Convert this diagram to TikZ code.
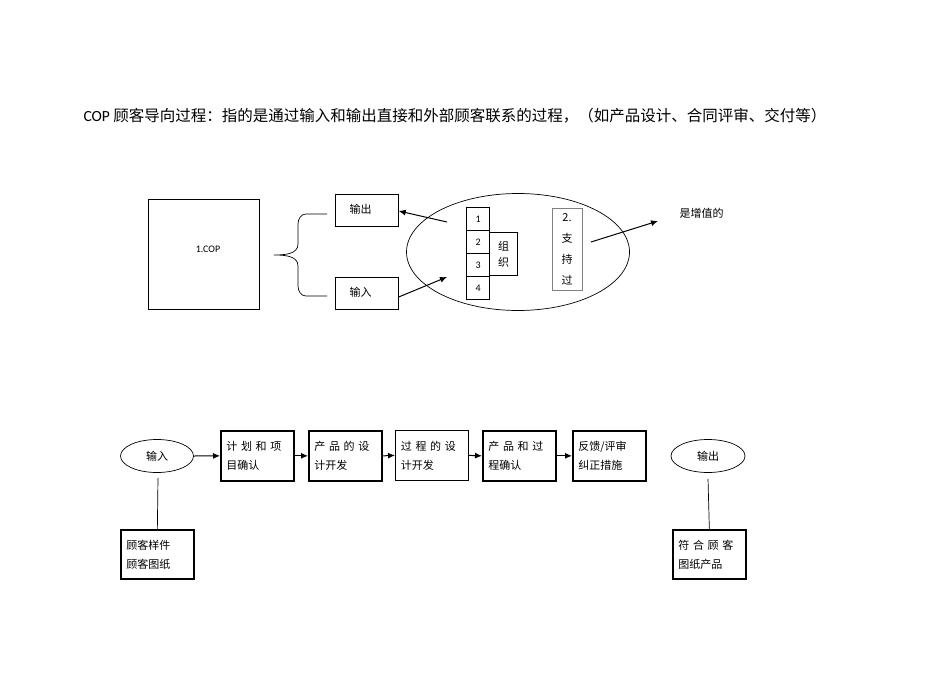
\documentclass[tikz,border=0pt]{standalone}
\usepackage{fontspec}
\setmainfont{Carlito}
\newfontfamily\cjk{Noto Sans CJK SC}
\usetikzlibrary{arrows.meta,shapes.geometric}
\begin{document}
\begin{tikzpicture}[x=1pt,y=-1pt,
  bx/.style={draw,line width=0.7pt,inner sep=0pt},
  thk/.style={draw,line width=1.7pt,inner sep=0pt},
  arr/.style={-{Latex[length=7pt,width=6pt]},line width=1pt},
  txt/.style={font=\cjk\fontsize{11}{16}\selectfont},
  flow/.style={thk,minimum width=73pt,minimum height=50pt,align=left,anchor=north west,text width=62pt,font=\cjk\fontsize{11}{19}\selectfont}]
\useasboundingbox (0,0) rectangle (950,672);
\node[anchor=west,font=\fontsize{15.5}{18}\selectfont] (title) at (80,116) {COP {\cjk 顾客导向过程：指的是通过输入和输出直接和外部顾客联系的过程，（如产品设计、合同评审、交付等）}};
% top
\draw[line width=0.7pt] (148,199) rectangle (259,309);
\node[font=\fontsize{10}{12}\selectfont] (cop) at (208,249) {1.COP};
\coordinate (bt) at (327,214);
\coordinate (bb) at (327,296);
\draw[line width=0.7pt] (bt) -- (306,214) to[out=180,in=90] (298,224) -- (298,244) to[out=-90,in=0] (274,255) to[out=0,in=90] (298,266) -- (298,286) to[out=-90,in=180] (306,296) -- (bb);
\node[bx,minimum width=63pt,minimum height=32pt,anchor=north west,txt] (out) at (335,194) {};
\node[txt,anchor=west] at (346,209) {输出};
\node[bx,minimum width=63pt,minimum height=32pt,anchor=north west,txt] (in) at (335,277) {};
\node[txt,anchor=west] at (346,292) {输入};
\node[draw,line width=0.7pt,ellipse,minimum width=223pt,minimum height=117pt,inner sep=0pt] (ell) at (518,252) {};
\node[thk,line width=1.2pt,minimum width=23pt,minimum height=23pt,anchor=north west,font=\fontsize{10}{12}\selectfont] (b1) at (466,207) {1};
\node[thk,line width=1.2pt,minimum width=23pt,minimum height=23pt,anchor=north west,font=\fontsize{10}{12}\selectfont] (b2) at (466,230) {2};
\node[thk,line width=1.2pt,minimum width=23pt,minimum height=23pt,anchor=north west,font=\fontsize{10}{12}\selectfont] (b3) at (466,253) {3};
\node[thk,line width=1.2pt,minimum width=23pt,minimum height=23pt,anchor=north west,font=\fontsize{10}{12}\selectfont] (b4) at (466,276) {4};
\node[thk,line width=1.2pt,minimum width=28pt,minimum height=43pt,anchor=north west,align=center,txt] (org) at (489,232) {组\\织};
\node[draw=gray,line width=0.9pt,minimum width=30pt,minimum height=82pt,anchor=north west,inner sep=0pt] (sup) at (552,208) {};
\node[txt,align=center,anchor=north,font=\cjk\fontsize{11}{21}\selectfont] at (567,210) {2.\\支\\持\\过};
\coordinate (o1) at (447,222);
\draw[arr] (o1) -- (out.east|-0,211);
\coordinate (i1) at (447,277);
\draw[arr] (in.east|-0,297) -- (i1);
\coordinate (s1) at (591,242);
\coordinate (s2) at (658,221);
\draw[arr] (s1) -- (s2);
\node[txt,anchor=west] (val) at (676,213) {是增值的};
% bottom
\node[draw,line width=0.7pt,ellipse,minimum width=73pt,minimum height=33pt,inner sep=0pt,txt] (ein) at (157,456) {输入};
\node[flow] (f1) at (220,430) {计 划 和 项\\目确认};
\node[flow] (f2) at (308,430) {产 品 的 设\\计开发};
\node[flow,line width=0.8pt] (f3) at (395,430) {过 程 的 设\\计开发};
\node[flow] (f4) at (482,430) {产 品 和 过\\程确认};
\node[flow] (f5) at (572,430) {反馈/评审\\纠正措施};
\node[draw,line width=0.7pt,ellipse,minimum width=74pt,minimum height=33pt,inner sep=0pt,txt] (eout) at (708,456) {输出};
\draw[arr] (ein.east) -- (f1.west);
\draw[arr] (f1.east) -- (f2.west);
\draw[arr] (f2.east) -- (f3.west);
\draw[arr] (f3.east) -- (f4.west);
\draw[arr] (f4.east) -- (f5.west);
\node[thk,minimum width=73pt,minimum height=49pt,anchor=north west,align=left,text width=62pt,font=\cjk\fontsize{11}{19}\selectfont] (c1) at (120,529) {顾客样件\\顾客图纸};
\node[thk,minimum width=73pt,minimum height=49pt,anchor=north west,align=left,text width=62pt,font=\cjk\fontsize{11}{19}\selectfont] (c2) at (672,529) {符 合 顾 客\\图纸产品};
\draw[line width=0.7pt] (ein.south) ++(1,5) -- (c1.north);
\draw[line width=0.7pt] (eout.south) ++(0,6) -- (c2.north);
\end{tikzpicture}
\end{document}
